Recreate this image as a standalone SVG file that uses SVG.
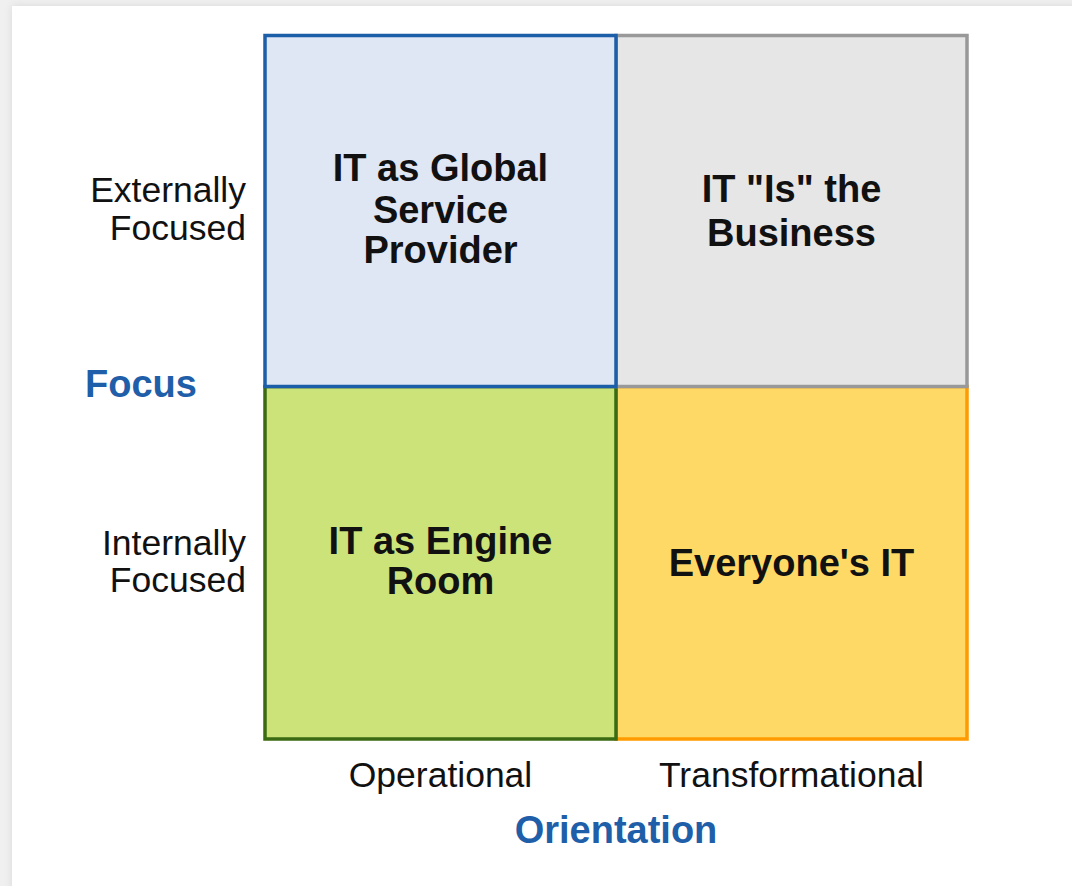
<svg xmlns="http://www.w3.org/2000/svg" width="1072" height="886" viewBox="0 0 1072 886">
<defs>
<filter id="sh" x="-5%" y="-5%" width="110%" height="110%"><feGaussianBlur stdDeviation="4"/></filter>
<style>
.q{stroke-width:3.5}
.b{font-family:"Liberation Sans",Arial,sans-serif;font-weight:bold;font-size:38px;fill:#111;text-anchor:middle}
.r{font-family:"Liberation Sans",Arial,sans-serif;font-size:35.5px;fill:#111}
.ax{font-family:"Liberation Sans",Arial,sans-serif;font-weight:bold;font-size:38px;fill:#1f5ea8}
</style>
</defs>
<rect x="0" y="0" width="1072" height="886" fill="#f0f0f0"/>
<rect x="12" y="6" width="1080" height="900" fill="#d8d8d8" filter="url(#sh)"/>
<rect x="12" y="6" width="1080" height="900" fill="#ffffff"/>
<g id="q-br"><rect class="q" x="616" y="386.5" width="351" height="352.5" fill="#ffd966" stroke="#ff9a00"/>
<text class="b" x="791.5" y="576">Everyone's IT</text></g>
<g id="q-bl"><rect class="q" x="265" y="386.5" width="351" height="352.5" fill="#cce37a" stroke="#3a6b12"/>
<text class="b" x="440.5" y="554">IT as Engine</text><text class="b" x="440.5" y="594">Room</text></g>
<g id="q-tr"><rect class="q" x="616" y="35.5" width="351" height="351" fill="#e6e6e6" stroke="#999999"/>
<text class="b" x="791.5" y="202">IT "Is" the</text><text class="b" x="791.5" y="246">Business</text></g>
<g id="q-tl"><rect class="q" x="265" y="35.5" width="351" height="351" fill="#dfe6f4" stroke="#1c5ea8"/>
<text class="b" x="440.5" y="181">IT as Global</text><text class="b" x="440.5" y="223">Service</text><text class="b" x="440.5" y="263">Provider</text></g>
<g id="labels">
<text class="r" x="246" y="202" text-anchor="end">Externally</text>
<text class="r" x="246" y="240" text-anchor="end">Focused</text>
<text class="r" x="246" y="555" text-anchor="end">Internally</text>
<text class="r" x="246" y="592" text-anchor="end">Focused</text>
<text class="r" x="440.5" y="787" text-anchor="middle">Operational</text>
<text class="r" x="791.5" y="787" text-anchor="middle">Transformational</text>
<text class="ax" x="85" y="397">Focus</text>
<text class="ax" x="616" y="843" text-anchor="middle">Orientation</text>
</g>
</svg>
